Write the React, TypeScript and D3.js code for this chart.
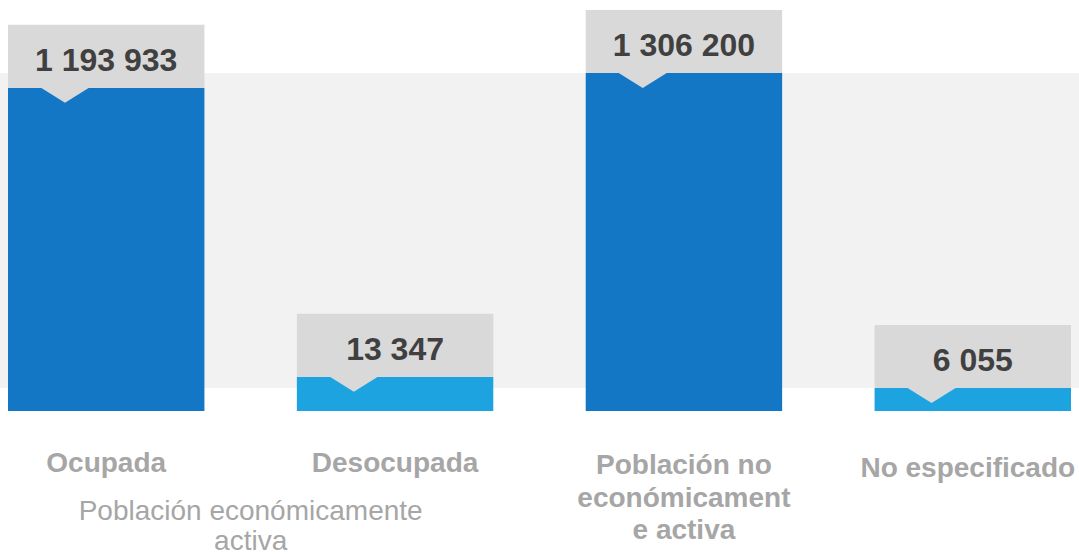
import React, { useEffect, useRef } from "react";
import * as d3 from "d3";

// categories and values
const categories = ["Ocupada", "Desocupada", "Población no económicamente activa", "No especificado"];
const categoryLines = [["Ocupada"], ["Desocupada"], ["Población no", "económicament", "e activa"], ["No especificado"]];
const values = [1193933, 13347, 1306200, 6055];
const groupLabel = ["Población económicamente", "activa"];

const width = 1079;
const height = 557;
const FONT = "'Liberation Sans', Arial, sans-serif";

const App: React.FC = () => {
	const ref = useRef<SVGSVGElement>(null);

	useEffect(() => {
		const svg = d3.select(ref.current);
		svg.selectAll("*").remove();

		const baseline = 411;
		const top = 73;

		const x = d3.scaleBand<string>()
			.domain(categories)
			.range([8, 1071])
			.paddingInner(0.32)
			.paddingOuter(0);

		// stylised infographic: bar heights grow roughly with the square root
		const y = d3.scaleSqrt()
			.domain([0, d3.max(values) as number])
			.range([baseline, top]);

		const color = d3.scaleOrdinal<string, string>()
			.domain(categories)
			.range(["#1477c6", "#1ca3e0", "#1477c6", "#1ca3e0"]);

		// light background band
		svg.append("rect")
			.attr("x", 0)
			.attr("y", y(d3.max(values) as number))
			.attr("width", width)
			.attr("height", y(d3.min(values) as number) - y(d3.max(values) as number))
			.attr("fill", "#f2f2f2");

		const bw = x.bandwidth();
		const boxH = 63;
		const notchL = 33, notchW = 48, notchD = 15;

		categories.forEach((c, i) => {
			const x0 = x(c)!;
			const yt = y(values[i]);
			const g = svg.append("g");

			g.append("rect")
				.attr("x", x0)
				.attr("y", yt)
				.attr("width", bw)
				.attr("height", baseline - yt)
				.attr("fill", color(c));

			// callout box with notch pointing down into the bar
			const p = d3.path();
			p.moveTo(x0, yt - boxH);
			p.lineTo(x0 + bw, yt - boxH);
			p.lineTo(x0 + bw, yt);
			p.lineTo(x0 + notchL + notchW, yt);
			p.lineTo(x0 + notchL + notchW / 2, yt + notchD);
			p.lineTo(x0 + notchL, yt);
			p.lineTo(x0, yt);
			p.closePath();
			g.append("path").attr("d", p.toString()).attr("fill", "#d9d9d9");

			g.append("text")
				.attr("x", x0 + bw / 2)
				.attr("y", yt - 17)
				.attr("text-anchor", "middle")
				.attr("font-family", FONT)
				.attr("font-weight", "bold")
				.attr("font-size", 32)
				.attr("fill", "#404040")
				.text(d3.format(",")(values[i]).replace(/,/g, " "));

			const lines = categoryLines[i];
			const t = g.append("text")
				.attr("text-anchor", "middle")
				.attr("font-family", FONT)
				.attr("font-weight", "bold")
				.attr("font-size", 28)
				.attr("fill", "#a6a6a6");
			const firstY = lines.length > 1 ? 474 : (i === 3 ? 477 : 472);
			lines.forEach((l, k) => {
				t.append("tspan")
					.attr("x", x0 + bw / 2 - (i === 3 ? 5 : 0))
					.attr("y", firstY + k * 32.5)
					.text(l);
			});
		});

		// group label under the first two categories
		const gx = (x(categories[0])! + x(categories[1])! + bw) / 2;
		const gt = svg.append("text")
			.attr("text-anchor", "middle")
			.attr("font-family", FONT)
			.attr("font-size", 28)
			.attr("fill", "#a6a6a6");
		groupLabel.forEach((l, k) => {
			gt.append("tspan").attr("x", gx).attr("y", 520 + k * 30).text(l);
		});
	}, []);

	return (
		<svg
			ref={ref}
			width={width}
			height={height}
			viewBox={`0 0 ${width} ${height}`}
			style={{ position: "absolute", left: 0, top: 0, background: "#ffffff" }}
		/>
	);
};

export default App;
